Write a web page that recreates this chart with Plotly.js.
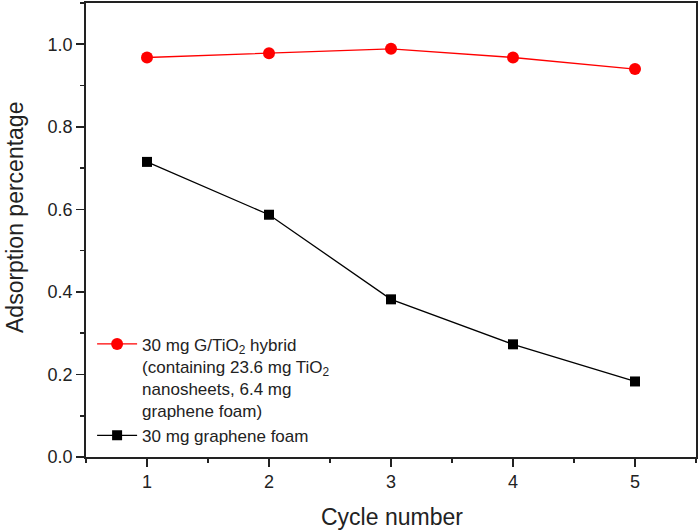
<!DOCTYPE html>
<html><head><meta charset="utf-8">
<script src="https://cdn.plot.ly/plotly-3.0.1.min.js"></script>
<style>html,body{margin:0;padding:0;background:#fff}#chart{width:700px;height:532px}</style>
</head><body><div id="chart"></div>
<script>
const cycles = [1, 2, 3, 4, 5];
const hybrid = [0.968, 0.978, 0.989, 0.968, 0.940];
const foam = [0.715, 0.587, 0.382, 0.273, 0.183];
const hybridName = '30 mg G/TiO<sub>2</sub> hybrid<br>(containing 23.6 mg TiO<sub>2</sub><br>nanosheets, 6.4 mg<br>graphene foam)';
const foamName = '30 mg graphene foam';
const xTitle = 'Cycle number';
const yTitle = 'Adsorption percentage';

const font = 'Liberation Sans, Arial, sans-serif';
const traces = [
  {x: cycles, y: hybrid, name: hybridName, type: 'scatter', mode: 'lines+markers',
   line: {color: '#ff0000', width: 1.3}, marker: {symbol: 'circle', size: 12, color: '#ff0000'}},
  {x: cycles, y: foam, name: foamName, type: 'scatter', mode: 'lines+markers',
   line: {color: '#000000', width: 1.3}, marker: {symbol: 'square', size: 10, color: '#000000'}}
];
const axisCommon = {
  showgrid: false, zeroline: false, showline: true, linecolor: '#222', linewidth: 1.8,
  mirror: true, ticks: 'outside', ticklen: 8, tickwidth: 1.6, tickcolor: '#222',
  tickfont: {family: font, size: 18, color: '#222'}
};
const layout = {
  width: 700, height: 532,
  margin: {l: 86, r: 4, t: 3, b: 75},
  paper_bgcolor: '#fff', plot_bgcolor: '#fff',
  font: {family: font, color: '#222'},
  showlegend: true,
  legend: {x: 0.01, y: 0.008, xanchor: 'left', yanchor: 'bottom', bgcolor: 'rgba(0,0,0,0)',
    font: {family: font, size: 17, color: '#222'}, itemwidth: 40, tracegroupgap: 0, valign: 'top'},
  xaxis: Object.assign({}, axisCommon, {
    range: [0.5, 5.5], tickvals: cycles, ticktext: cycles.map(String),
    minor: {dtick: 0.5, tick0: 0.5, ticks: 'outside', ticklen: 4, tickwidth: 1.6, tickcolor: '#222'}
  }),
  yaxis: Object.assign({}, axisCommon, {
    range: [0, 1.1], dtick: 0.2, tick0: 0, tickformat: '.1f',
    minor: {dtick: 0.1, ticks: 'outside', ticklen: 4, tickwidth: 1.6, tickcolor: '#222'}
  }),
  annotations: [
    {text: xTitle, xref: 'paper', yref: 'paper', x: (392 - 86) / 610, y: (457 - 517) / 454,
     xanchor: 'center', yanchor: 'middle', showarrow: false, font: {family: font, size: 23, color: '#222'}},
    {text: yTitle, xref: 'paper', yref: 'paper', x: (15 - 86) / 610, y: (457 - 218) / 454,
     xanchor: 'center', yanchor: 'middle', textangle: -90, showarrow: false, font: {family: font, size: 23, color: '#222'}}
  ]
};
Plotly.newPlot('chart', traces, layout, {displayModeBar: false, staticPlot: true});
</script></body></html>
